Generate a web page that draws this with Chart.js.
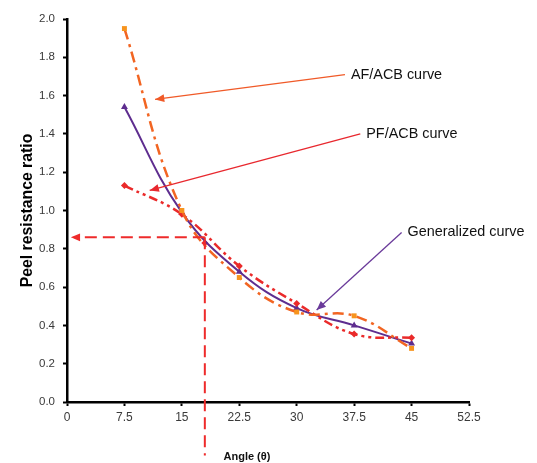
<!DOCTYPE html>
<html>
<head>
<meta charset="utf-8">
<script src="https://cdn.jsdelivr.net/npm/chart.js@4/dist/chart.umd.min.js"></script>
<style>
  html, body { margin: 0; padding: 0; background: #fff; }
  #wrap { width: 537px; height: 463px; }
</style>
</head>
<body>
<div id="wrap"><canvas id="peel"></canvas></div>
<script>
// angles (deg) and peel resistance ratios
const angles = [7.5, 15, 22.5, 30, 37.5, 45]
const afAcb = [1.95, 1.0, 0.65, 0.47, 0.45, 0.28]
const pfAcb = [1.13, 0.98, 0.71, 0.515, 0.355, 0.335]
const generalized = [1.54, 0.99, 0.68, 0.49, 0.40, 0.305]

// reading at 18 deg
const readAngle = 18
const readRatio = 0.86
const readMarker = 0.83

// callouts: label, text anchor [x, y], arrow tip [x, y] (data units)
const callouts = [
  { text: "AF/ACB curve", from: [36.3, 1.71], to: [11.5, 1.58], color: "#f05a28" },
  { text: "PF/ACB curve", from: [38.3, 1.40], to: [10.8, 1.105], color: "#e8282e" },
  { text: "Generalized curve", from: [43.7, 0.885], to: [32.6, 0.48], color: "#6a3a9a" },
]

const pts = (ys) => ys.map((y, i) => ({ x: angles[i], y: y }))

function arrowHead(ctx, x1, y1, x2, y2, size) {
  const a = Math.atan2(y2 - y1, x2 - x1)
  ctx.beginPath()
  ctx.moveTo(x2, y2)
  ctx.lineTo(x2 - size * Math.cos(a - 0.4), y2 - size * Math.sin(a - 0.4))
  ctx.lineTo(x2 - size * Math.cos(a + 0.4), y2 - size * Math.sin(a + 0.4))
  ctx.closePath()
  ctx.fill()
}

const annotate = {
  id: "annotate",
  afterDatasetsDraw(chart) {
    const ctx = chart.ctx
    const xs = chart.scales.x
    const ys = chart.scales.y
    const px = xs.getPixelForValue(readAngle)
    const py = ys.getPixelForValue(readRatio)
    ctx.save()
    // dashed reading lines
    ctx.strokeStyle = "#ee2b2b"
    ctx.fillStyle = "#ee2b2b"
    ctx.lineWidth = 2
    ctx.setLineDash([12, 6])
    ctx.beginPath()
    ctx.moveTo(px, py)
    ctx.lineTo(xs.getPixelForValue(0.9), py)
    ctx.moveTo(px, py)
    ctx.lineTo(px, ys.getPixelForValue(-0.28))
    ctx.stroke()
    ctx.setLineDash([])
    arrowHead(ctx, px, py, xs.getPixelForValue(0.5), py, 10)
    // callout arrows and labels
    ctx.font = "14.4px 'Liberation Sans', Arial, sans-serif"
    ctx.textBaseline = "middle"
    callouts.forEach(c => {
      const x1 = xs.getPixelForValue(c.from[0]), y1 = ys.getPixelForValue(c.from[1])
      const x2 = xs.getPixelForValue(c.to[0]), y2 = ys.getPixelForValue(c.to[1])
      ctx.strokeStyle = c.color
      ctx.fillStyle = c.color
      ctx.lineWidth = 1.3
      ctx.beginPath()
      ctx.moveTo(x1, y1)
      ctx.lineTo(x2, y2)
      ctx.stroke()
      arrowHead(ctx, x1, y1, x2, y2, 10)
      ctx.fillStyle = "#111"
      ctx.fillText(c.text, x1 + 6, y1)
    })
    // x axis title, sits left of centre
    ctx.font = "bold 11px 'Liberation Sans', Arial, sans-serif"
    ctx.textAlign = "center"
    ctx.fillText("Angle (θ)", xs.getPixelForValue(23.5), 457)
    ctx.restore()
  }
}

new Chart("peel", {
  type: "line",
  data: {
    datasets: [
      {
        label: "AF/ACB",
        data: pts(afAcb),
        borderColor: "#f26522",
        backgroundColor: "#f7941d",
        borderWidth: 2.5,
        borderDash: [11, 5, 3, 5],
        tension: 0.4,
        pointStyle: "rect",
        pointRadius: 3.5,
        pointBorderWidth: 0,
      },
      {
        label: "PF/ACB",
        data: pts(pfAcb),
        borderColor: "#ea2a2a",
        backgroundColor: "#ea2a2a",
        borderWidth: 2.5,
        borderDash: [9, 4, 3, 4, 3, 4],
        tension: 0.4,
        pointStyle: "rectRot",
        pointRadius: 3.5,
        pointBorderWidth: 0,
      },
      {
        label: "Generalized",
        data: pts(generalized),
        borderColor: "#5e2d8f",
        backgroundColor: "#5e2d8f",
        borderWidth: 2,
        tension: 0.4,
        pointStyle: "triangle",
        pointRadius: 4,
        pointBorderWidth: 0,
      },
      {
        label: "Reading",
        data: [{ x: readAngle, y: readMarker }],
        showLine: false,
        backgroundColor: "#ee2b2b",
        pointStyle: "rectRot",
        pointRadius: 3.5,
        pointBorderWidth: 0,
      },
    ]
  },
  options: {
    animation: false,
    responsive: true,
    maintainAspectRatio: false,
    layout: { padding: { top: 19, right: 68, left: 18, bottom: 0 } },
    plugins: {
      legend: { display: false },
      tooltip: { enabled: false },
    },
    scales: {
      x: {
        type: "linear",
        min: 0,
        max: 52.5,
        ticks: {
          stepSize: 7.5,
          color: "#3a3a3a",
          font: { family: "'Liberation Sans', Arial, sans-serif", size: 12 },
          padding: 4,
        },
        grid: { drawOnChartArea: false, color: "#000", tickLength: 4, tickWidth: 2 },
        border: { color: "#000", width: 2.5 },
        afterFit: (s) => { s.height = 61 },
      },
      y: {
        min: 0,
        max: 2,
        ticks: {
          stepSize: 0.2,
          color: "#3a3a3a",
          font: { family: "'Liberation Sans', Arial, sans-serif", size: 11.5 },
          padding: 8,
          callback: (v) => v.toFixed(1),
        },
        title: {
          display: true,
          text: "Peel resistance ratio",
          color: "#000",
          font: { family: "'Liberation Sans', Arial, sans-serif", size: 15.8, weight: "bold" },
          padding: { top: 0, bottom: 6 },
        },
        grid: { drawOnChartArea: false, color: "#000", tickLength: 4, tickWidth: 2 },
        border: { color: "#000", width: 2.5 },
        afterFit: (s) => { s.width = 49 },
      }
    }
  },
  plugins: [annotate]
})
</script>
</body>
</html>
